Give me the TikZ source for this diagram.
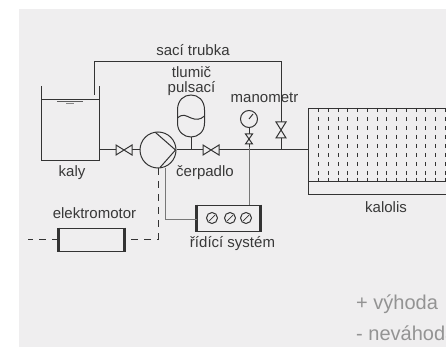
\documentclass[tikz,border=0pt]{standalone}
\usepackage{fontspec}
\setmainfont{Liberation Sans}
\definecolor{bgc}{HTML}{EFEEEF}
\definecolor{ink}{HTML}{333333}
\definecolor{soft}{HTML}{777777}
\definecolor{lbl}{HTML}{383838}
\tikzset{
 pipe/.style={draw=ink,line width=1pt},
 sigline/.style={draw=soft,line width=1pt},
 shaft/.style={draw=ink,line width=1pt,dash pattern=on 7pt off 6pt},
 lab/.style={text=lbl,font=\fontsize{15}{15}\selectfont,inner sep=0pt,align=center},
 note/.style={text=gray!85,font=\fontsize{20}{22}\selectfont,inner sep=0pt,anchor=base west},
 pt/.style={inner sep=0pt,minimum size=0pt},
 dial/.style={circle,draw=ink,line width=1pt,inner sep=0pt}
}
\newcommand{\hvalve}[3]{% centre x,y half width
 \draw[pipe,fill=bgc] (#1-#3,#2-5)--(#1+#3,#2+5)--(#1+#3,#2-5)--(#1-#3,#2+5)--cycle;}
\newcommand{\vvalve}[4]{% centre x,y half height half width
 \draw[pipe,fill=bgc] (#1-#4,#2+#3)--(#1+#4,#2-#3)--(#1-#4,#2-#3)--(#1+#4,#2+#3)--cycle;}
\begin{document}
\begin{tikzpicture}[x=1pt,y=-1pt]
\useasboundingbox (0,0) rectangle (446,347);
\fill[bgc] (19,9) rectangle (446,347);
% suction pipe
\coordinate (sucA) at (94,95);
\coordinate (sucB) at (94,62);
\coordinate (sucC) at (281,62);
\coordinate (sucD) at (281,150);
\draw[pipe] (sucA)--(sucB)--(sucC)--(sucD);
\vvalve{281}{130}{8}{5}
% tank
\draw[pipe] (41,86)--(41,161)--(99.5,161)--(99.5,86);
\draw[pipe] (41,100)--(99.5,100);
\draw[ink!80,line width=1.6pt] (57,101.5)--(83,101.5);
\draw[ink!60,line width=1.4pt] (66,103.5)--(74,103.5);
% main line
\node[circle,draw=ink,line width=1pt,minimum size=36pt,inner sep=0pt] (pump) at (158,150) {};
\node[pt] (kal) at (308,150) {};
\draw[pipe] (99.5,150)--(pump.west);
\draw[pipe] (pump.east)--(kal);
\hvalve{124}{150}{8}
\hvalve{211}{150}{8}
\draw[pipe] (155.5,132.5)--(175.5,150)--(160,167.5);
% damper
\draw[pipe] (191,137)--(191,150);
\draw[pipe] (177.5,110) .. controls (177.5,100) and (184,95) .. (191,95)
 .. controls (198,95) and (204.5,100) .. (204.5,110)--(204.5,123)
 .. controls (204.5,132) and (198,137) .. (191,137)
 .. controls (184,137) and (177.5,132) .. (177.5,123)--cycle;
\draw[pipe] (177.5,118) .. controls (183,113) and (186,116) .. (191,118) .. controls (196,120) and (200,120) .. (204.5,116);
% manometer
\node[dial,minimum size=17pt,fill=bgc] (mano) at (249,119) {};
\draw[pipe] (249,119)--(253,114);
\draw[pipe] (mano.south)--(249,150);
\vvalve{249}{139}{5}{3.5}
% control box
\node[draw=ink,line width=1pt,minimum width=63pt,minimum height=26pt,inner sep=0pt] (ctl) at (228.5,218) {};
\draw[ink,line width=2.2pt] (ctl.north west)--(ctl.south west) (ctl.north east)--(ctl.south east);
\foreach \n/\x in {a/212,b/230,c/246}{
 \node[dial,minimum size=11pt] (d\n) at (\x,218) {};
 \draw[ink,line width=0.7pt] (\x-3,221)--(\x+3,215);
}
\coordinate (sigA) at (165,168);
\coordinate (sigB) at (165,219);
\draw[sigline] (sigA)--(sigB)--(ctl.west |- sigB);
\coordinate (sigC) at (249,205);
\draw[sigline] (sigC)--(249,147);
% motor
\node[draw=ink,line width=1pt,minimum width=65pt,minimum height=23pt,inner sep=0pt] (mot) at (91.5,239.5) {};
\draw[ink,line width=2.2pt] (mot.north west)--(mot.south west) (mot.north east)--(mot.south east);
\coordinate (shA) at (158,168);
\coordinate (shB) at (158,239);
\coordinate (shC) at (28,239);
\draw[shaft] (shA)--(shB)--(mot.east |- shB);
\draw[shaft] (mot.west |- shB)--(shC);
% kalolis
\draw[pipe] (446,108.5)--(308.5,108.5)--(308.5,194)--(446,194);
\draw[pipe] (308.5,181.5)--(446,181.5);
\foreach \i in {0,...,13}{
 \foreach \y in {110,119,128,137,146,155,164,173,180}{
  \draw[ink,line width=0.9pt] (318.5+\i*9.75,\y-2)--(318.5+\i*9.75,\y+2);
 }
}
% labels
\node[lab] (t1) at (193,50) {sací trubka};
\node[lab,text width=60pt] (t2) at (191.5,81) {tlumič\\pulsací};
\node[lab] (t3) at (264.5,98) {manometr};
\node[lab] (t4) at (72,173) {kaly};
\node[lab] (t5) at (205,173) {čerpadlo};
\node[lab] (t6) at (94.5,213) {elektromotor};
\node[lab] (t7) at (232.5,243.5) {řídící systém};
\node[lab] (t8) at (386,207.5) {kalolis};
\node[note] (t9) at (356,309) {+ výhoda};
\node[note] (t10) at (356,340) {- neváhoda};
\end{tikzpicture}
\end{document}
